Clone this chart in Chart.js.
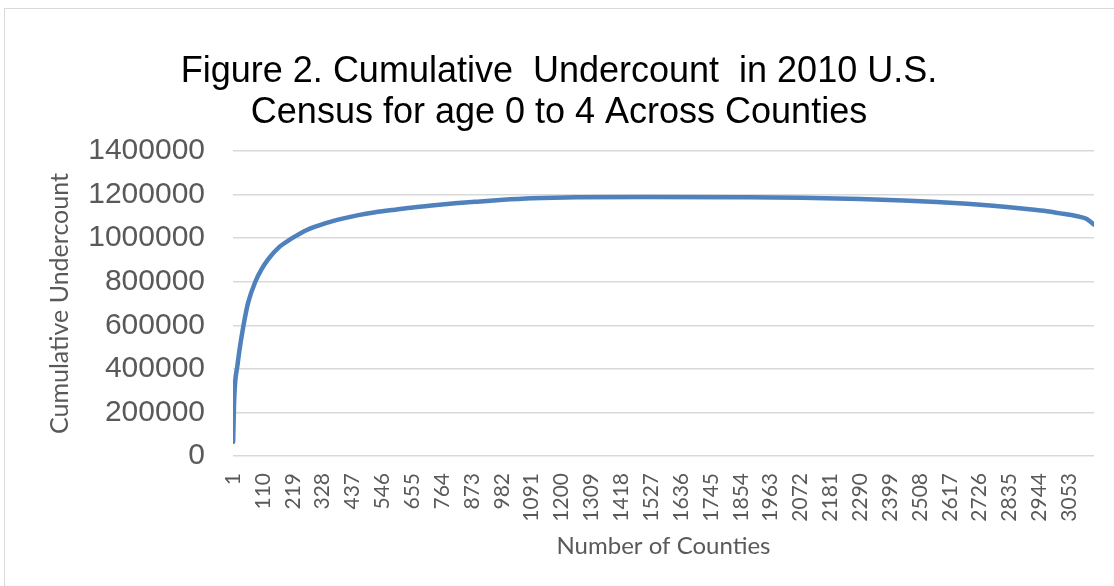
<!DOCTYPE html>
<html>
<head>
<meta charset="utf-8">
<script src="https://cdn.jsdelivr.net/npm/chart.js@4.4.0/dist/chart.umd.min.js"></script>
<style>
  html, body { margin: 0; padding: 0; background: #ffffff; }
  #wrap { position: relative; width: 1114px; height: 586px; }
</style>
</head>
<body>
<div id="wrap"><canvas id="c" width="1114" height="586"></canvas></div>
<script>
// Data (county rank -> cumulative undercount)
const countyIdx = [1, 4, 8, 16, 26, 39, 55, 82, 105, 130, 170, 215, 270, 336, 400, 458, 520, 580, 650, 744, 811, 884, 975, 1091, 1255, 1500, 1850, 2076, 2290, 2448, 2570, 2680, 2764, 2826, 2898, 2971, 3030, 3092, 3117, 3143];
const undercount = [65000, 226000, 333000, 410000, 502000, 601000, 701000, 800000, 858000, 905000, 960000, 999000, 1038000, 1068000, 1090000, 1106000, 1119000, 1129000, 1140000, 1152000, 1160000, 1167000, 1175000, 1183000, 1188000, 1189000, 1188000, 1186000, 1180000, 1173000, 1166000, 1158000, 1150000, 1143000, 1134000, 1124000, 1112000, 1098000, 1088000, 1063000];
const totalCounties = 3143;
const xTickLabels = [1, 110, 219, 328, 437, 546, 655, 764, 873, 982, 1091, 1200, 1309, 1418, 1527, 1636, 1745, 1854, 1963, 2072, 2181, 2290, 2399, 2508, 2617, 2726, 2835, 2944, 3053];
const yTickLabels = [0, 200000, 400000, 600000, 800000, 1000000, 1200000, 1400000];
const chartTitle = ['Figure 2. Cumulative  Undercount  in 2010 U.S.', 'Census for age 0 to 4 Across Counties'];
const xTitle = 'Number of Counties';
const yTitle = 'Cumulative Undercount';

const points = countyIdx.map((c, i) => ({ x: c, y: undercount[i] }));

const PLOT_LEFT = 233, PLOT_RIGHT = 1094, PLOT_TOP = 151, PLOT_BOTTOM = 456;
const W = 1114, H = 586;
const PAD_LEFT = 24;

const borderPlugin = {
  id: 'outerBorder',
  beforeDraw(chart) {
    const ctx = chart.ctx;
    ctx.save();
    ctx.fillStyle = '#ffffff';
    ctx.fillRect(0, 0, W, H);
    ctx.strokeStyle = '#d9d9d9';
    ctx.lineWidth = 1;
    ctx.strokeRect(4.5, 8.5, W + 10, H + 10);
    ctx.restore();
  }
};

new Chart(document.getElementById('c'), {
  type: 'line',
  data: {
    datasets: [{
      data: points,
      borderColor: '#4f81bd',
      borderWidth: 4.5,
      pointRadius: 0,
      cubicInterpolationMode: 'monotone',
      fill: false,
      borderCapStyle: 'round',
      borderJoinStyle: 'round'
    }]
  },
  options: {
    responsive: false,
    animation: false,
    layout: { padding: { left: PAD_LEFT, right: W - PLOT_RIGHT, top: 0, bottom: 0 } },
    plugins: {
      legend: { display: false },
      tooltip: { enabled: false },
      title: {
        display: true,
        text: chartTitle,
        color: '#000000',
        font: { family: 'Liberation Sans, Arial, sans-serif', size: 36, weight: 'normal', lineHeight: 1.14 },
        padding: { top: 51.5, bottom: 17.5 }
      }
    },
    scales: {
      x: {
        type: 'linear',
        min: 0.5,
        max: totalCounties + 0.5,
        afterBuildTicks(scale) { scale.ticks = xTickLabels.map(v => ({ value: v })); },
        afterFit(scale) { scale.height = H - PLOT_BOTTOM; },
        grid: { display: false, drawTicks: false },
        border: { display: false },
        ticks: {
          autoSkip: false,
          minRotation: 90,
          maxRotation: 90,
          padding: 17,
          color: '#595959',
          font: { family: 'Lato, sans-serif', size: 21 },
          callback: v => String(v)
        },
        title: {
          display: true,
          text: xTitle,
          color: '#595959',
          font: { family: 'Lato, sans-serif', size: 24 },
          padding: { top: 0, bottom: 25.6 }
        }
      },
      y: {
        min: 0,
        max: 1400000,
        afterBuildTicks(scale) { scale.ticks = yTickLabels.map(v => ({ value: v })); },
        afterFit(scale) { scale.width = PLOT_LEFT - PAD_LEFT; },
        grid: { color: '#d9d9d9', lineWidth: 1.5, drawTicks: false },
        border: { display: false },
        ticks: {
          padding: 28,
          color: '#595959',
          font: { family: 'Liberation Sans, Arial, sans-serif', size: 30 },
          callback: v => String(v)
        },
        title: {
          display: true,
          text: yTitle,
          color: '#595959',
          font: { family: 'Lato, sans-serif', size: 25 },
          padding: { top: 45 - PAD_LEFT, bottom: 0 }
        }
      }
    }
  },
  plugins: [borderPlugin]
});
</script>
</body>
</html>
